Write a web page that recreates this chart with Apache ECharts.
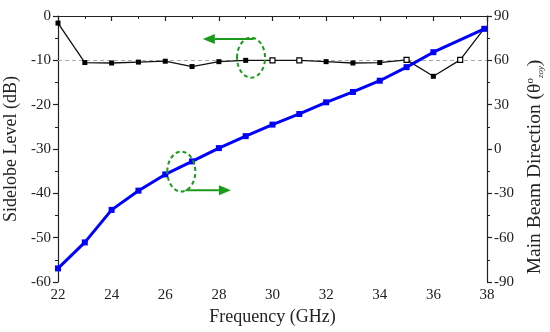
<!DOCTYPE html>
<html>
<head>
<meta charset="utf-8">
<script src="https://cdn.jsdelivr.net/npm/echarts@6/dist/echarts.min.js"></script>
<style>html,body{margin:0;padding:0;background:#fff}#c{width:550px;height:332px}</style>
</head>
<body>
<div id="c"></div>
<script>
// Data
const sllFreq = [22, 23, 24, 25, 26, 27, 28, 29, 30, 31, 32, 33, 34, 35, 36, 37, 37.9];
const sllValues = [-1.6, -10.5, -10.6, -10.4, -10.2, -11.4, -10.3, -10.0, -10.0, -10.0, -10.3, -10.6, -10.5, -9.9, -13.6, -9.9, -2.8];
const sllHollow = [30, 31, 35, 37];
const beamFreq = [22, 23, 24, 25, 26, 27, 28, 29, 30, 31, 32, 33, 34, 35, 36, 37.9];
const beamValues = [-80.8, -63.2, -41.2, -28.2, -17.2, -8.4, 0.6, 8.7, 16.5, 23.7, 31.6, 38.6, 46.2, 55.4, 65.5, 81.3];
const refLevel = -10;
// Annotation anchors in data coordinates (GHz, dB)
const leftMarkCenter = [29.2, -9.4];
const leftArrow = [[29.3, -5.2], [27.4, -5.2]];
const rightMarkCenter = [26.6, -35.1];
const rightArrow = [[26.75, -39.3], [28.45, -39.3]];

const FONT = '"Liberation Serif", "DejaVu Serif", serif';
const GREEN = '#1a9a1a';

const chart = echarts.init(document.getElementById('c'), null, {renderer: 'canvas'});

const sllData = sllFreq.map((f, i) => {
  const item = {value: [f, sllValues[i]]};
  if (sllHollow.indexOf(f) >= 0) item.itemStyle = {color: '#fff', borderColor: '#000', borderWidth: 1.2};
  return item;
});
const beamData = beamFreq.map((f, i) => [f, beamValues[i]]);

const axisCommon = {
  axisLine: {show: true, lineStyle: {color: '#222', width: 1.2}},
  axisTick: {show: true, inside: false, length: 5, lineStyle: {color: '#222', width: 1.2}},
  minorTick: {show: true, splitNumber: 2, length: 3, lineStyle: {color: '#222', width: 1}},
  splitLine: {show: false},
  axisLabel: {color: '#222', fontFamily: FONT, fontSize: 15},
  nameTextStyle: {color: '#222', fontFamily: FONT, fontSize: 18}
};

chart.setOption({
  animation: false,
  grid: {left: 58, right: 63, top: 16, bottom: 50, containLabel: false, outerBoundsMode: 'none'},
  xAxis: Object.assign({}, axisCommon, {
    type: 'value', min: 22, max: 38, interval: 2,
    name: 'Frequency (GHz)', nameLocation: 'middle', nameGap: 24,
    axisLabel: Object.assign({}, axisCommon.axisLabel, {margin: 6})
  }),
  yAxis: [
    Object.assign({}, axisCommon, {
      type: 'value', min: -60, max: 0, interval: 10, position: 'left',
      name: 'Sidelobe Level (dB)', nameLocation: 'middle', nameGap: 34, nameRotate: 90,
      axisLabel: Object.assign({}, axisCommon.axisLabel, {margin: 7})
    }),
    Object.assign({}, axisCommon, {
      type: 'value', min: -90, max: 90, interval: 30, position: 'right',
      name: 'Main Beam Direction (θ{sup|o}{sub|zoy})', nameLocation: 'middle', nameGap: 34, nameRotate: 90,
      nameTextStyle: Object.assign({}, axisCommon.nameTextStyle, {
        fontSize: 19.5,
        padding: [0, 36, 0, 0],
        rich: {
          sup: {fontFamily: FONT, fontSize: 11, color: '#222', verticalAlign: 'top', padding: [0, 0, 8, 0]},
          sub: {fontFamily: FONT, fontSize: 9, fontStyle: 'italic', color: '#222', verticalAlign: 'bottom', padding: [6, 0, 0, 0]}
        }
      }),
      axisLabel: Object.assign({}, axisCommon.axisLabel, {margin: 7})
    })
  ],
  series: [
    {
      name: 'Sidelobe', type: 'line', yAxisIndex: 0, data: sllData,
      symbol: 'rect', symbolSize: 5, showAllSymbol: true,
      lineStyle: {color: '#111', width: 1.3},
      itemStyle: {color: '#000'},
      z: 3,
      markLine: {
        silent: true, symbol: 'none', label: {show: false},
        lineStyle: {color: '#aaa', type: [4, 3], width: 1},
        data: [{yAxis: refLevel}],
        z: 1
      }
    },
    {
      name: 'Beam', type: 'line', yAxisIndex: 1, data: beamData,
      symbol: 'rect', symbolSize: 6, showAllSymbol: true,
      lineStyle: {color: '#0000ff', width: 3},
      itemStyle: {color: '#0000ff'},
      z: 4
    }
  ]
});

function px(p) { return chart.convertToPixel({xAxisIndex: 0, yAxisIndex: 0}, p); }
function arrow(a, b) {
  const p1 = px(a), p2 = px(b);
  const dir = Math.sign(p2[0] - p1[0]);
  const headLen = 12, headHalf = 5;
  const baseX = p2[0] - dir * headLen;
  return [
    {type: 'line', shape: {x1: p1[0], y1: p1[1], x2: baseX, y2: p2[1]}, style: {stroke: GREEN, lineWidth: 2}, z: 10},
    {type: 'polygon', shape: {points: [[p2[0], p2[1]], [baseX, p2[1] - headHalf], [baseX, p2[1] + headHalf]]}, style: {fill: GREEN}, z: 10}
  ];
}
function ellipse(c) {
  const p = px(c);
  return {type: 'ellipse', shape: {cx: p[0], cy: p[1], rx: 14, ry: 20},
    style: {fill: null, stroke: GREEN, lineWidth: 2, lineDash: [4, 3]}, z: 10};
}
chart.setOption({
  graphic: [ellipse(leftMarkCenter), ...arrow(leftArrow[0], leftArrow[1]), ellipse(rightMarkCenter), ...arrow(rightArrow[0], rightArrow[1])]
});
</script>
</body>
</html>
